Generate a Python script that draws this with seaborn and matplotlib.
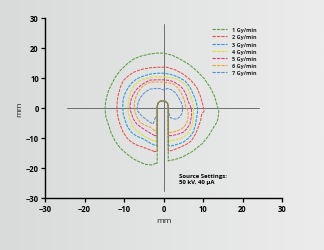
import numpy as np
import pandas as pd
import seaborn as sns
import matplotlib
matplotlib.use("Agg")
import matplotlib.pyplot as plt
from matplotlib.lines import Line2D
from matplotlib.colors import LinearSegmentedColormap

# ---- data (mm) ----
labels = ["1 Gy/min", "2 Gy/min", "3 Gy/min", "4 Gy/min", "5 Gy/min", "6 Gy/min", "7 Gy/min"]
colors = ["#5a9e3e", "#e5534b", "#2f9ad6", "#e2dc3a", "#de3b86", "#eea23a", "#5f8fd3"]

# outer contour points, from bottom-left (next to the tube) round the top to bottom-right
c1_x = [-1.9, -3.0, -4.5, -5.9, -7.7, -9.3, -11.0, -12.3, -13.3, -14.0, -14.6, -14.8, -14.7, -14.4, -13.9, -13.1, -12.2, -11.0, -9.4, -7.6, -5.5, -3.4, -1.5, 0.0, 2.2, 4.2, 6.4, 8.4, 10.3, 11.8, 12.9, 13.5, 14.0, 13.8, 13.4, 12.7, 11.4, 9.7, 7.3, 4.7, 2.8, 1.3]
c1_y = [-18.4, -19.0, -18.8, -18.1, -16.9, -15.3, -13.3, -10.9, -8.2, -5.3, -2.9, -0.5, 1.6, 3.7, 5.9, 8.0, 10.3, 12.4, 14.5, 16.3, 17.4, 18.0, 18.3, 18.3, 17.6, 16.3, 14.6, 12.4, 9.8, 6.9, 4.0, 1.3, -1.0, -3.6, -5.0, -6.4, -9.3, -12.0, -14.5, -16.4, -17.2, -17.6]
c2_x = [-2.3, -3.7, -5.1, -6.7, -8.1, -9.3, -10.2, -10.9, -11.4, -11.7, -11.8, -11.7, -11.4, -10.9, -10.2, -9.0, -7.6, -5.5, -3.4, -1.3, 0.8, 3.0, 5.0, 6.9, 8.4, 9.3, 9.9, 10.3, 9.7, 9.4, 8.8, 8.1, 7.1, 5.8, 4.2, 2.1, 1.3]
c2_y = [-14.5, -13.8, -13.1, -12.4, -11.4, -9.9, -8.1, -5.9, -3.7, -1.7, 0.2, 2.4, 4.7, 7.0, 9.1, 10.6, 11.9, 12.9, 13.4, 13.6, 13.6, 12.7, 11.3, 9.3, 6.9, 4.1, 1.3, -1.0, -2.0, -4.2, -6.4, -8.7, -10.9, -12.1, -13.1, -14.2, -14.3]
c3_x = [-2.2, -3.0, -5.1, -6.8, -8.1, -9.1, -9.7, -10.2, -10.3, -10.3, -10.2, -9.7, -8.9, -8.0, -6.8, -5.2, -3.4, -1.6, 0.0, 1.6, 3.6, 5.4, 6.7, 7.5, 8.2, 8.6, 8.6, 8.4, 8.1, 7.5, 6.5, 5.0, 3.5, 2.1, 1.3]
c3_y = [-12.4, -12.0, -10.3, -9.4, -8.1, -6.3, -4.2, -2.1, 0.0, 1.5, 3.0, 5.0, 6.9, 8.4, 9.7, 10.6, 11.3, 11.6, 11.6, 11.3, 10.4, 9.1, 7.0, 4.7, 2.4, 0.0, -1.5, -3.1, -5.6, -8.1, -9.9, -11.4, -12.1, -12.6, -12.6]
c4_x = [-2.2, -2.6, -3.9, -5.1, -6.5, -7.6, -8.4, -8.9, -9.0, -8.9, -8.6, -8.1, -7.4, -6.5, -5.0, -3.4, -1.7, 0.0, 1.6, 3.0, 4.6, 5.9, 6.6, 7.1, 7.4, 7.6, 7.6, 7.5, 7.4, 7.1, 6.3, 5.0, 3.6, 2.1, 1.3]
c4_y = [-10.9, -10.9, -10.1, -9.2, -7.9, -6.4, -4.2, -2.0, 0.0, 2.0, 3.9, 5.8, 7.4, 8.7, 9.6, 10.2, 10.4, 10.4, 10.2, 9.8, 8.8, 7.4, 5.2, 3.0, 1.5, 0.0, -1.5, -3.1, -4.8, -6.4, -8.2, -9.8, -10.4, -10.9, -11.0]
c5_x = [-2.2, -3.2, -4.3, -5.6, -6.8, -7.6, -8.1, -8.4, -8.5, -8.2, -7.6, -6.9, -5.9, -4.7, -3.4, -1.7, 0.0, 1.3, 2.5, 3.9, 5.0, 5.8, 6.3, 6.8, 7.1, 7.1, 6.9, 6.7, 6.0, 5.0, 3.5, 2.1, 1.3]
c5_y = [-9.2, -8.5, -7.6, -6.5, -5.3, -3.7, -2.0, -0.6, 0.8, 2.8, 4.7, 6.1, 7.4, 8.5, 9.3, 9.4, 9.4, 9.2, 8.8, 7.7, 6.3, 4.2, 2.0, 0.7, -0.5, -2.6, -4.0, -5.3, -6.8, -8.1, -8.8, -9.2, -9.2]
c6_x = [-2.2, -3.4, -4.7, -5.9, -6.7, -7.2, -7.4, -7.3, -7.0, -6.4, -5.5, -4.5, -3.4, -1.7, 0.0, 1.3, 2.5, 3.7, 4.6, 5.3, 5.7, 6.1, 6.3, 6.2, 5.9, 5.4, 4.6, 3.4, 2.1, 1.3]
c6_y = [-7.6, -6.4, -5.7, -4.8, -3.1, -1.4, 1.0, 2.3, 3.6, 5.4, 6.9, 7.9, 8.6, 8.7, 8.6, 8.4, 8.0, 6.6, 4.7, 2.5, 0.3, -0.9, -2.0, -3.4, -4.8, -6.0, -7.0, -7.7, -8.1, -8.1]
c7_x = [-2.0, -2.6, -3.4, -4.3, -5.1, -5.9, -6.6, -6.6, -6.4, -5.9, -5.1, -4.3, -3.4, -2.2, -1.0, 0.0, 1.0, 2.0, 2.9, 3.5, 4.0, 4.5, 4.8, 4.8, 4.6, 4.1, 3.3, 2.4, 1.6, 1.3]
c7_y = [-3.0, -5.3, -4.8, -3.9, -3.1, -2.1, -0.9, 0.6, 1.9, 3.4, 4.7, 5.6, 6.3, 6.5, 6.5, 6.0, 6.5, 6.1, 5.2, 4.2, 3.0, 1.8, 0.5, -0.8, -2.0, -3.0, -3.7, -3.6, -3.1, -1.0]

# the shared inner arch around the tube (right side up, over, left side down)
arch_x = [1.2, 1.2, 1.0, 0.5, -0.2, -0.9, -1.4, -1.6, -1.6]
arch_y = [-0.5, 0.5, 1.6, 2.2, 2.4, 2.2, 1.6, 0.5, -0.5]

crosshair_h = [-24.4, 24.2]
crosshair_v = [-27.5, 28.0]

contours = [(c1_x, c1_y), (c2_x, c2_y), (c3_x, c3_y), (c4_x, c4_y),
            (c5_x, c5_y), (c6_x, c6_y), (c7_x, c7_y)]

rows = []
for lab, (cx, cy) in zip(labels, contours):
    # tube sides run down to each contour's own bottom
    xs = list(cx) + [1.2] + arch_x + [-1.6, cx[0]]
    ys = list(cy) + [cy[-1]] + arch_y + [cy[0], cy[0]]
    for i, (x, y) in enumerate(zip(xs, ys)):
        rows.append({"x": x, "y": y, "dose": lab, "order": i})
df = pd.DataFrame(rows)

# ---- figure ----
W, H = 324, 251
fig = plt.figure(figsize=(W / 100, H / 100), dpi=100)
bg = fig.add_axes([0, 0, 1, 1], zorder=-10)
grad = np.linspace(0, 1, 256)[None, :]
cmap = LinearSegmentedColormap.from_list("bg", ["#d9dbdb", "#ececec"])
bg.imshow(grad, aspect="auto", cmap=cmap, extent=[0, 1, 0, 1])
bg.set_axis_off()

sns.set_style("ticks")
plt.rcParams["font.family"] = ["Open Sans", "DejaVu Sans"]

ax = fig.add_axes([45 / W, 1 - 199 / H, (282 - 45) / W, (199 - 19) / H])
ax.set_facecolor("none")

pal = dict(zip(labels, colors))
sns.lineplot(data=df, x="x", y="y", hue="dose", palette=pal, sort=False,
             estimator=None, units="dose", ax=ax, legend=False, linewidth=0.75)
for i, ln in enumerate(ax.lines):
    ln.set_linestyle((0, (3, 1)))
    ln.set_zorder(3 + (len(ax.lines) - i) * 0.1)

ax.plot(crosshair_h, [0, 0], color="#6e6e6e", lw=0.7, zorder=2)
ax.plot([0, 0], crosshair_v, color="#6e6e6e", lw=0.7, zorder=2)

ax.set_xlim(-30, 30)
ax.set_ylim(-30, 30)
ax.set_xticks(np.arange(-30, 31, 10))
ax.set_yticks(np.arange(-30, 31, 10))
for s in ["top", "right"]:
    ax.spines[s].set_visible(False)
for s in ["left", "bottom"]:
    ax.spines[s].set_color("black")
    ax.spines[s].set_linewidth(1.0)
ax.tick_params(axis="both", direction="out", length=3, width=0.9, color="black",
               labelsize=5.5, pad=1.5, labelcolor="black")
for t in ax.get_xticklabels() + ax.get_yticklabels():
    t.set_fontweight("bold")
ax.set_xlabel("mm", fontsize=6, labelpad=3)
ax.set_ylabel("mm", fontsize=6, labelpad=2)

handles = [Line2D([0], [0], color=c, lw=0.8, ls=(0, (3, 1))) for c in colors]
leg = ax.legend(handles, labels, loc="upper left", bbox_to_anchor=(0.695, 0.965),
                frameon=False, fontsize=4, handlelength=2.6, handletextpad=0.9,
                labelspacing=0.4, borderpad=0)
for t in leg.get_texts():
    t.set_fontweight("bold")

ax.text(3.8, -21.8, "Source Settings:\n50 kV, 40 µA", fontsize=4.3, fontweight="bold",
        va="top", ha="left", linespacing=1.05, color="black")

fig.savefig("out.png", dpi=100)
